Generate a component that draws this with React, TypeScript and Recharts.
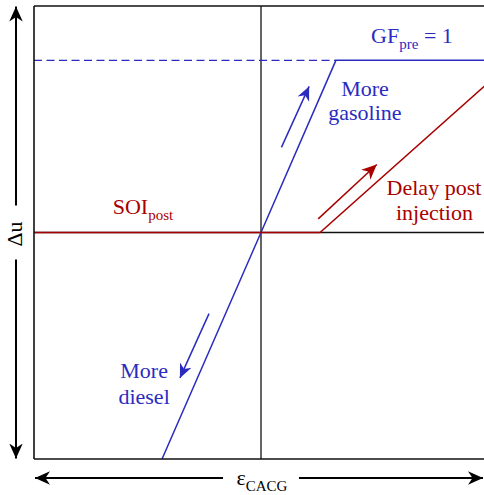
import React from 'react';
import { ComposedChart, Line, XAxis, YAxis, ReferenceDot } from 'recharts';

const BLUE = '#2b2bbf';
const RED = '#a80000';
const FONT = '"Liberation Serif", "DejaVu Serif", serif';

// frame / crosshair (normalised units, origin in the middle)
const topBorderX = [-1, 1];
const topBorderY = [1, 1];
const hAxisX = [-1, 1];
const hAxisY = [0, 0];
const vAxisX = [0, 0];
const vAxisY = [-1, 1];

// GF_pre = 1 ceiling (dashed part)
const gfDashX = [-1, 0.33];
const gfDashY = [0.76, 0.76];

// blend line, saturating at GF_pre = 1
const blendX = [-0.436, 0, 0.33, 1];
const blendY = [-1, 0, 0.76, 0.76];

// SOI_post line, bending up when post injection is delayed
const soiX = [-1, 0.26, 1];
const soiY = [0, 0, 0.66];

// direction arrows
const gasolineArrowX = [0.09, 0.212];
const gasolineArrowY = [0.376, 0.645];
const dieselArrowX = [-0.229, -0.357];
const dieselArrowY = [-0.358, -0.642];
const postArrowX = [0.252, 0.51];
const postArrowY = [0.06, 0.3];

const toPoints = (xs: number[], ys: number[]) =>
  xs.map((x, i) => ({ x, y: ys[i] }));

const Note = (props: any) => {
  const { viewBox, text, sub, rest, color } = props;
  if (!viewBox) return null;
  return (
    <text
      x={viewBox.x}
      y={viewBox.y}
      textAnchor="middle"
      fill={color}
      fontSize={22}
      fontFamily={FONT}
    >
      {text}
      {sub && (
        <tspan fontSize={15} dy={6}>
          {sub}
        </tspan>
      )}
      {rest && <tspan dy={-6}>{rest}</tspan>}
    </text>
  );
};

const XLabel = (props: any) => {
  const { viewBox } = props;
  if (!viewBox) return null;
  const cx = viewBox.x + 227;
  const y = viewBox.y + 19;
  return (
    <g>
      <line x1={cx - 38} y1={y} x2={cx - 226} y2={y} stroke="#000" strokeWidth={2} markerEnd="url(#ah-black)" />
      <line x1={cx + 38} y1={y} x2={cx + 222} y2={y} stroke="#000" strokeWidth={2} markerEnd="url(#ah-black)" />
      <text x={cx + 1} y={viewBox.y + 26} textAnchor="middle" fontSize={22} fontFamily={FONT} fill="#000">
        ε
        <tspan fontSize={15} dy={6}>
          CACG
        </tspan>
      </text>
    </g>
  );
};

const YLabel = (props: any) => {
  const { viewBox } = props;
  if (!viewBox) return null;
  const cy = viewBox.y + viewBox.height / 2;
  const x = viewBox.x + 16;
  return (
    <g>
      <line x1={x} y1={cy - 27} x2={x} y2={cy - 226} stroke="#000" strokeWidth={2} markerEnd="url(#ah-black)" />
      <line x1={x} y1={cy + 27} x2={x} y2={cy + 226} stroke="#000" strokeWidth={2} markerEnd="url(#ah-black)" />
      <text
        x={x + 6}
        y={cy + 1.5}
        textAnchor="middle"
        fontSize={22}
        fontFamily={FONT}
        fill="#000"
        transform={`rotate(-90, ${x + 6}, ${cy + 1.5})`}
      >
        Δu
      </text>
    </g>
  );
};

const arrowHead = (id: string, color: string, size: number) => (
  <marker
    id={id}
    viewBox="0 0 10 10"
    refX={10}
    refY={5}
    markerWidth={size}
    markerHeight={size}
    markerUnits="userSpaceOnUse"
    orient="auto"
  >
    <path d="M10,5 L0,0.5 L3,5 L0,9.5 Z" fill={color} />
  </marker>
);

export default function App() {
  const lineProps = {
    dataKey: 'y',
    dot: false,
    activeDot: false,
    isAnimationActive: false,
    type: 'linear' as const,
  };

  return (
    <div style={{ position: 'absolute', left: 0, top: 0, width: 484, height: 495, overflow: 'hidden', background: '#fff' }}>
      <svg width={0} height={0} style={{ position: 'absolute' }}>
        <defs>
          {arrowHead('ah-black', '#000', 15)}
          {arrowHead('ah-blue', BLUE, 14)}
          {arrowHead('ah-red', RED, 15)}
        </defs>
      </svg>
      <ComposedChart
        width={488}
        height={495}
        margin={{ top: 6, right: 0, bottom: 0, left: 0 }}
        style={{ fontFamily: FONT }}
      >
        <XAxis
          type="number"
          dataKey="x"
          domain={[-1, 1]}
          height={36}
          tick={false}
          tickLine={false}
          axisLine={{ stroke: '#111', strokeWidth: 1.6 }}
          label={<XLabel />}
        />
        <YAxis
          type="number"
          dataKey="y"
          domain={[-1, 1]}
          width={34}
          tick={false}
          tickLine={false}
          axisLine={{ stroke: '#111', strokeWidth: 1.6 }}
          label={<YLabel />}
        />

        <Line {...lineProps} data={toPoints(topBorderX, topBorderY)} stroke="#111" strokeWidth={1.6} />
        <Line {...lineProps} data={toPoints(hAxisX, hAxisY)} stroke="#111" strokeWidth={1.3} />
        <Line {...lineProps} data={toPoints(vAxisX, vAxisY)} stroke="#111" strokeWidth={1.3} />

        <Line {...lineProps} data={toPoints(gfDashX, gfDashY)} stroke={BLUE} strokeWidth={1.4} strokeDasharray="8 4.5" />
        <Line {...lineProps} data={toPoints(blendX, blendY)} stroke={BLUE} strokeWidth={1.5} />
        <Line {...lineProps} data={toPoints(soiX, soiY)} stroke={RED} strokeWidth={1.5} />

        <Line {...lineProps} data={toPoints(gasolineArrowX, gasolineArrowY)} stroke={BLUE} strokeWidth={1.5} markerEnd="url(#ah-blue)" />
        <Line {...lineProps} data={toPoints(dieselArrowX, dieselArrowY)} stroke={BLUE} strokeWidth={1.5} markerEnd="url(#ah-blue)" />
        <Line {...lineProps} data={toPoints(postArrowX, postArrowY)} stroke={RED} strokeWidth={1.5} markerEnd="url(#ah-red)" />

        <ReferenceDot x={0.665} y={0.838} r={0} label={<Note text="GF" sub="pre" rest=" = 1" color={BLUE} />} />
        <ReferenceDot x={0.458} y={0.604} r={0} label={<Note text="More" color={BLUE} />} />
        <ReferenceDot x={0.458} y={0.498} r={0} label={<Note text="gasoline" color={BLUE} />} />
        <ReferenceDot x={0.762} y={0.167} r={0} label={<Note text="Delay post" color={RED} />} />
        <ReferenceDot x={0.764} y={0.053} r={0} label={<Note text="injection" color={RED} />} />
        <ReferenceDot x={-0.52} y={0.082} r={0} label={<Note text="SOI" sub="post" color={RED} />} />
        <ReferenceDot x={-0.515} y={-0.643} r={0} label={<Note text="More" color={BLUE} />} />
        <ReferenceDot x={-0.515} y={-0.758} r={0} label={<Note text="diesel" color={BLUE} />} />
      </ComposedChart>
    </div>
  );
}
